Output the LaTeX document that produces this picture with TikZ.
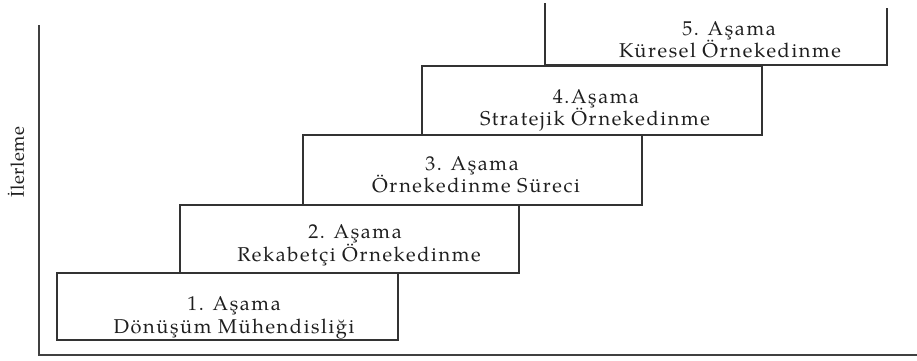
\documentclass[tikz,border=0pt]{standalone}
\usepackage{fontspec}
\setmainfont{TeX Gyre Pagella}
\newfontfamily\stepfont[LetterSpace=8]{TeX Gyre Pagella}
\newfontfamily\axisfont[LetterSpace=3]{TeX Gyre Pagella}
\begin{document}
\begin{tikzpicture}[x=1pt,y=-1pt,
  frame/.style={draw=black!80,line width=1.6pt},
  axis/.style={draw=black!75,line width=1.6pt},
  label/.style={text=black!88,font=\stepfont\fontsize{20}{24}\selectfont,inner sep=0pt,anchor=base}]
\useasboundingbox[fill=white] (0,0) rectangle (917,360);

% stair steps
\draw[frame] (57,273) rectangle (398,340);
\draw[frame] (180,205) rectangle (519,273);
\draw[frame] (303,135) rectangle (642,205);
\draw[frame] (422,66) rectangle (762,135);
% top step is open above
\draw[frame] (545,3) -- (545,65) -- (887,65) -- (887,8);

% step labels, one node per line, placed on their baselines
\node[label] (s1a) at (234,310) {1. Aşama};
\node[label] (s1b) at (234,333) {Dönüşüm Mühendisliği};
\node[label] (s2a) at (355,238) {2. Aşama};
\node[label] (s2b) at (359,261) {Rekabetçi Örnekedinme};
\node[label] (s3a) at (472,170) {3. Aşama};
\node[label] (s3b) at (476,192) {Örnekedinme Süreci};
\node[label] (s4a) at (596,103) {4.Aşama};
\node[label] (s4b) at (595,125) {Stratejik Örnekedinme};
\node[label] (s5a) at (729,35) {5. Aşama};
\node[label] (s5b) at (730,57) {Küresel Örnekedinme};

% axes
\coordinate (top) at (39,25);
\coordinate (origin) at (39,355);
\coordinate (right) at (917,355);
\draw[axis] (top) -- (origin) -- (right);
\node[label,font=\axisfont\fontsize{18.5}{22}\selectfont,anchor=center,rotate=90] (yl) at (16,162) {İlerleme};
\end{tikzpicture}
\end{document}
